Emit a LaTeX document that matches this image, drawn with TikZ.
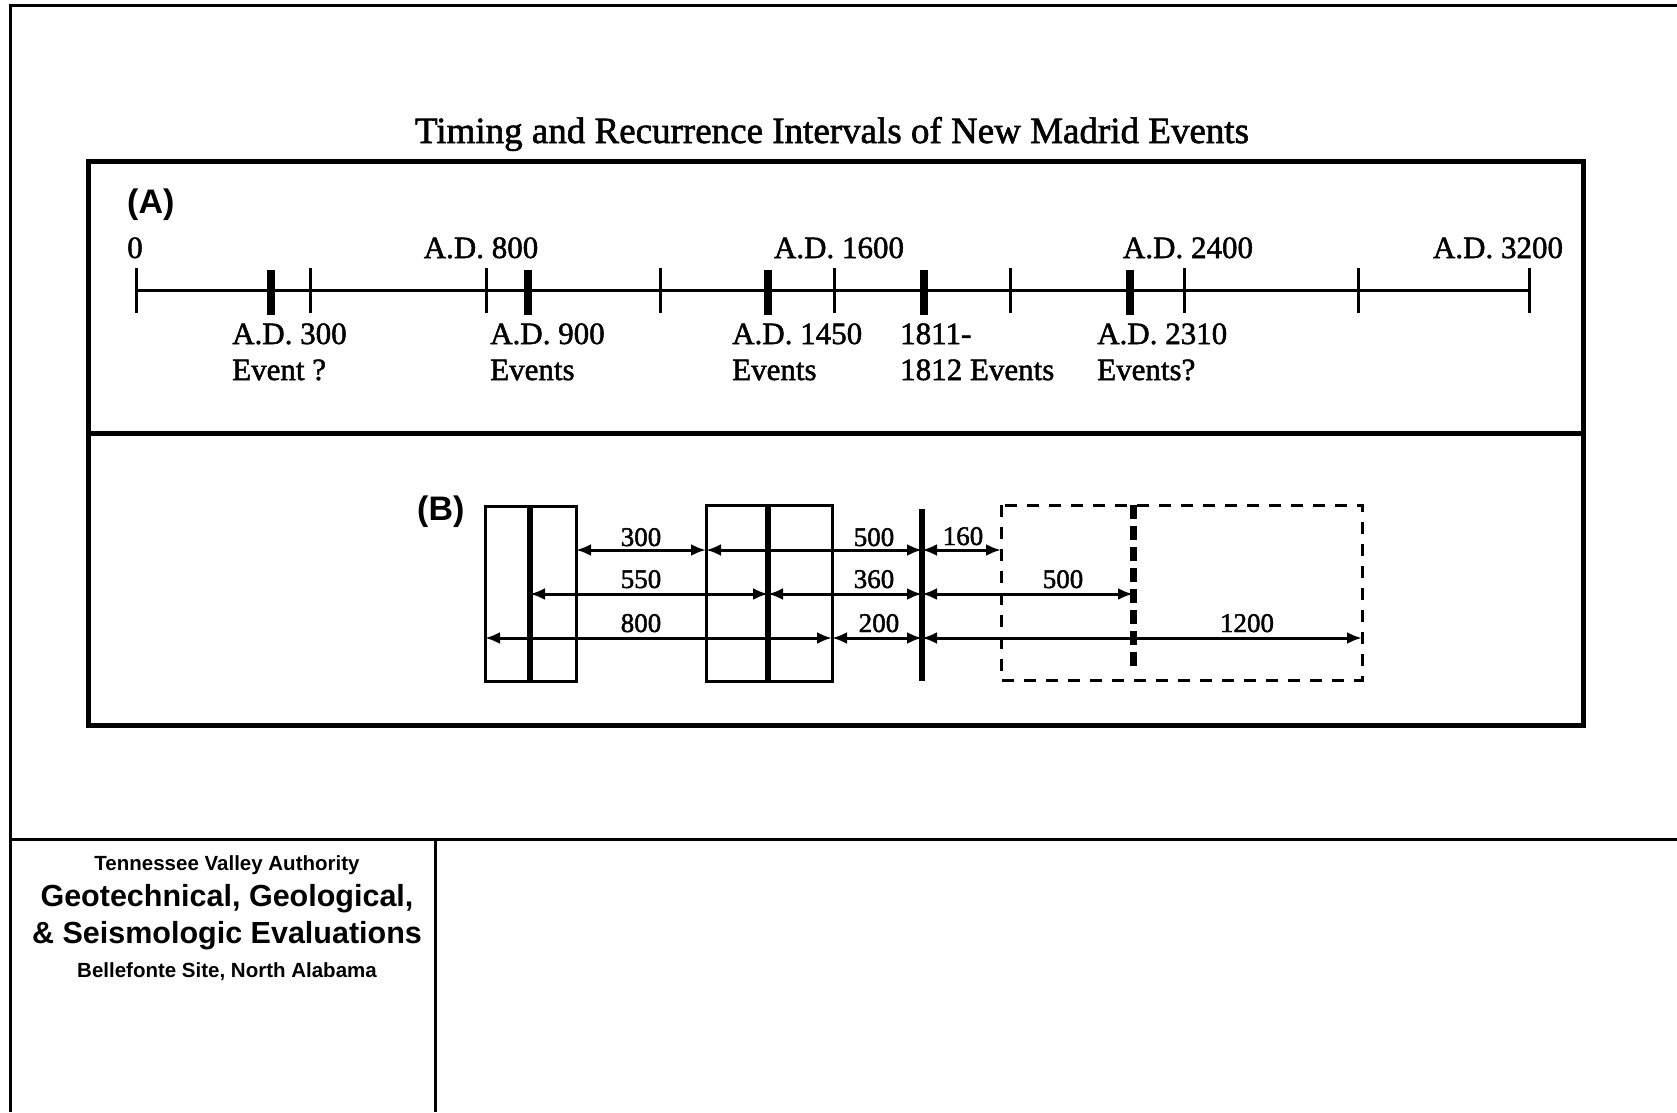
\documentclass[tikz,border=0pt]{standalone}
\usepackage{fontspec}
\setmainfont[FakeBold=1.3]{Liberation Serif}
\newfontfamily\heavyserif[FakeBold=1.6]{Liberation Serif}
\newfontfamily\arialf{Liberation Sans}
\usetikzlibrary{arrows.meta}
\begin{document}
\begin{tikzpicture}[x=1pt,y=-1pt,
  frameline/.style={line width=3pt},
  panelline/.style={line width=5pt},
  axisline/.style={line width=3pt},
  thintick/.style={line width=3pt},
  thicktick/.style={line width=8pt},
  toplbl/.style={font=\heavyserif\fontsize{31}{34}\selectfont, inner sep=0pt, anchor=base},
  botlbl/.style={font=\heavyserif\fontsize{31}{36}\selectfont, inner sep=0pt, anchor=base west, align=left},
  panlbl/.style={font=\arialf\bfseries\fontsize{34}{38}\selectfont, inner sep=0pt, anchor=base west},
  numlbl/.style={font=\heavyserif\fontsize{27}{30}\selectfont, inner sep=0pt, anchor=base},
  thinbox/.style={line width=3pt},
  evline/.style={line width=6pt},
  dashbox/.style={line width=3pt, dash pattern=on 12pt off 10pt},
  dashev/.style={line width=7pt, dash pattern=on 14pt off 7pt},
  dim/.style={line width=3pt, {Latex[length=15pt,width=12pt]}-{Latex[length=15pt,width=12pt]}},
  tbsmall/.style={font=\arialf\bfseries\fontsize{20.5}{22}\selectfont, inner sep=0pt, anchor=base},
  tbbig/.style={font=\arialf\bfseries\fontsize{30.5}{33}\selectfont, inner sep=0pt, anchor=base},
  titlefont/.style={font=\heavyserif\fontsize{37}{40}\selectfont, inner sep=0pt, anchor=base}
]
\useasboundingbox (0,0) rectangle (1677,1112);

% outer frame
\draw[frameline] (1677,5) -- (10,5) -- (10,1112);
\draw[frameline] (10,839) -- (1677,839);
\draw[frameline] (435,839) -- (435,1112);

% title block
\node[tbsmall] (tba) at (227,870) {Tennessee Valley Authority};
\node[tbbig] (tbb) at (227,906) {Geotechnical, Geological,};
\node[tbbig] (tbc) at (227,943) {\& Seismologic Evaluations};
\node[tbsmall] (tbd) at (227,977) {Bellefonte Site, North Alabama};

% title
\node[titlefont] (title) at (832,143) {Timing and Recurrence Intervals of New Madrid Events};

% panel boxes
\draw[panelline] (88,161) rectangle (1583,725);
\draw[panelline] (88,433) -- (1583,433);

% ---------- panel A ----------
\node[panlbl] (labA) at (127,213) {(A)};
\coordinate (axL) at (136,290);
\coordinate (axR) at (1529,290);
\draw[axisline] (axL) -- (axR);
\foreach \x in {136,310,486,660,834,1010,1184,1358,1529}
  \draw[thintick] (\x,268) -- (\x,313);
\foreach \x in {271,528,768,924,1130}
  \draw[thicktick] (\x,270) -- (\x,315);

\node[toplbl] (t0) at (135,258) {0};
\node[toplbl] (t800) at (481,258) {A.D. 800};
\node[toplbl] (t1600) at (839,258) {A.D. 1600};
\node[toplbl] (t2400) at (1188,258) {A.D. 2400};
\node[toplbl] (t3200) at (1498,258) {A.D. 3200};

\node[botlbl] (e300a) at (232,344) {A.D. 300};
\node[botlbl] (e300b) at (232,380) {Event ?};
\node[botlbl] (e900a) at (490,344) {A.D. 900};
\node[botlbl] (e900b) at (490,380) {Events};
\node[botlbl] (e1450a) at (732,344) {A.D. 1450};
\node[botlbl] (e1450b) at (732,380) {Events};
\node[botlbl] (e1811a) at (900,344) {1811-};
\node[botlbl] (e1811b) at (900,380) {1812 Events};
\node[botlbl] (e2310a) at (1097,344) {A.D. 2310};
\node[botlbl] (e2310b) at (1097,380) {Events?};

% ---------- panel B ----------
\node[panlbl] (labB) at (417,520) {(B)};

% boxes
\draw[thinbox] (485,506) rectangle (576,681);
\draw[evline] (530,506) -- (530,681);
\draw[thinbox] (706,505) rectangle (832,681);
\draw[evline] (768,505) -- (768,681);
\draw[evline] (922,509) -- (922,681);
\draw[dashbox] (1001,505) rectangle (1362,680);
\draw[dashev] (1133,505) -- (1133,668);

% anchor coordinates
\coordinate (r1a) at (576,550);  \coordinate (r1b) at (706,550);
\coordinate (r1c) at (922,550);  \coordinate (r1d) at (1001,550);
\coordinate (r2a) at (530,594);  \coordinate (r2b) at (768,594);
\coordinate (r2c) at (922,594);  \coordinate (r2d) at (1133,594);
\coordinate (r3a) at (485,638);  \coordinate (r3b) at (832,638);
\coordinate (r3c) at (922,638);  \coordinate (r3d) at (1362,638);

\draw[dim] (r1a) -- (r1b);
\draw[dim] (r1b) -- (r1c);
\draw[dim] (r1c) -- (r1d);
\draw[dim] (r2a) -- (r2b);
\draw[dim] (r2b) -- (r2c);
\draw[dim] (r2c) -- (r2d);
\draw[dim] (r3a) -- (r3b);
\draw[dim] (r3b) -- (r3c);
\draw[dim] (r3c) -- (r3d);

\node[numlbl] (n300) at (641,546) {300};
\node[numlbl] (n500a) at (874,546) {500};
\node[numlbl] (n160) at (963,545) {160};
\node[numlbl] (n550) at (641,588) {550};
\node[numlbl] (n360) at (874,588) {360};
\node[numlbl] (n500b) at (1063,588) {500};
\node[numlbl] (n800) at (641,632) {800};
\node[numlbl] (n200) at (879,632) {200};
\node[numlbl] (n1200) at (1247,632) {1200};
\end{tikzpicture}
\end{document}
